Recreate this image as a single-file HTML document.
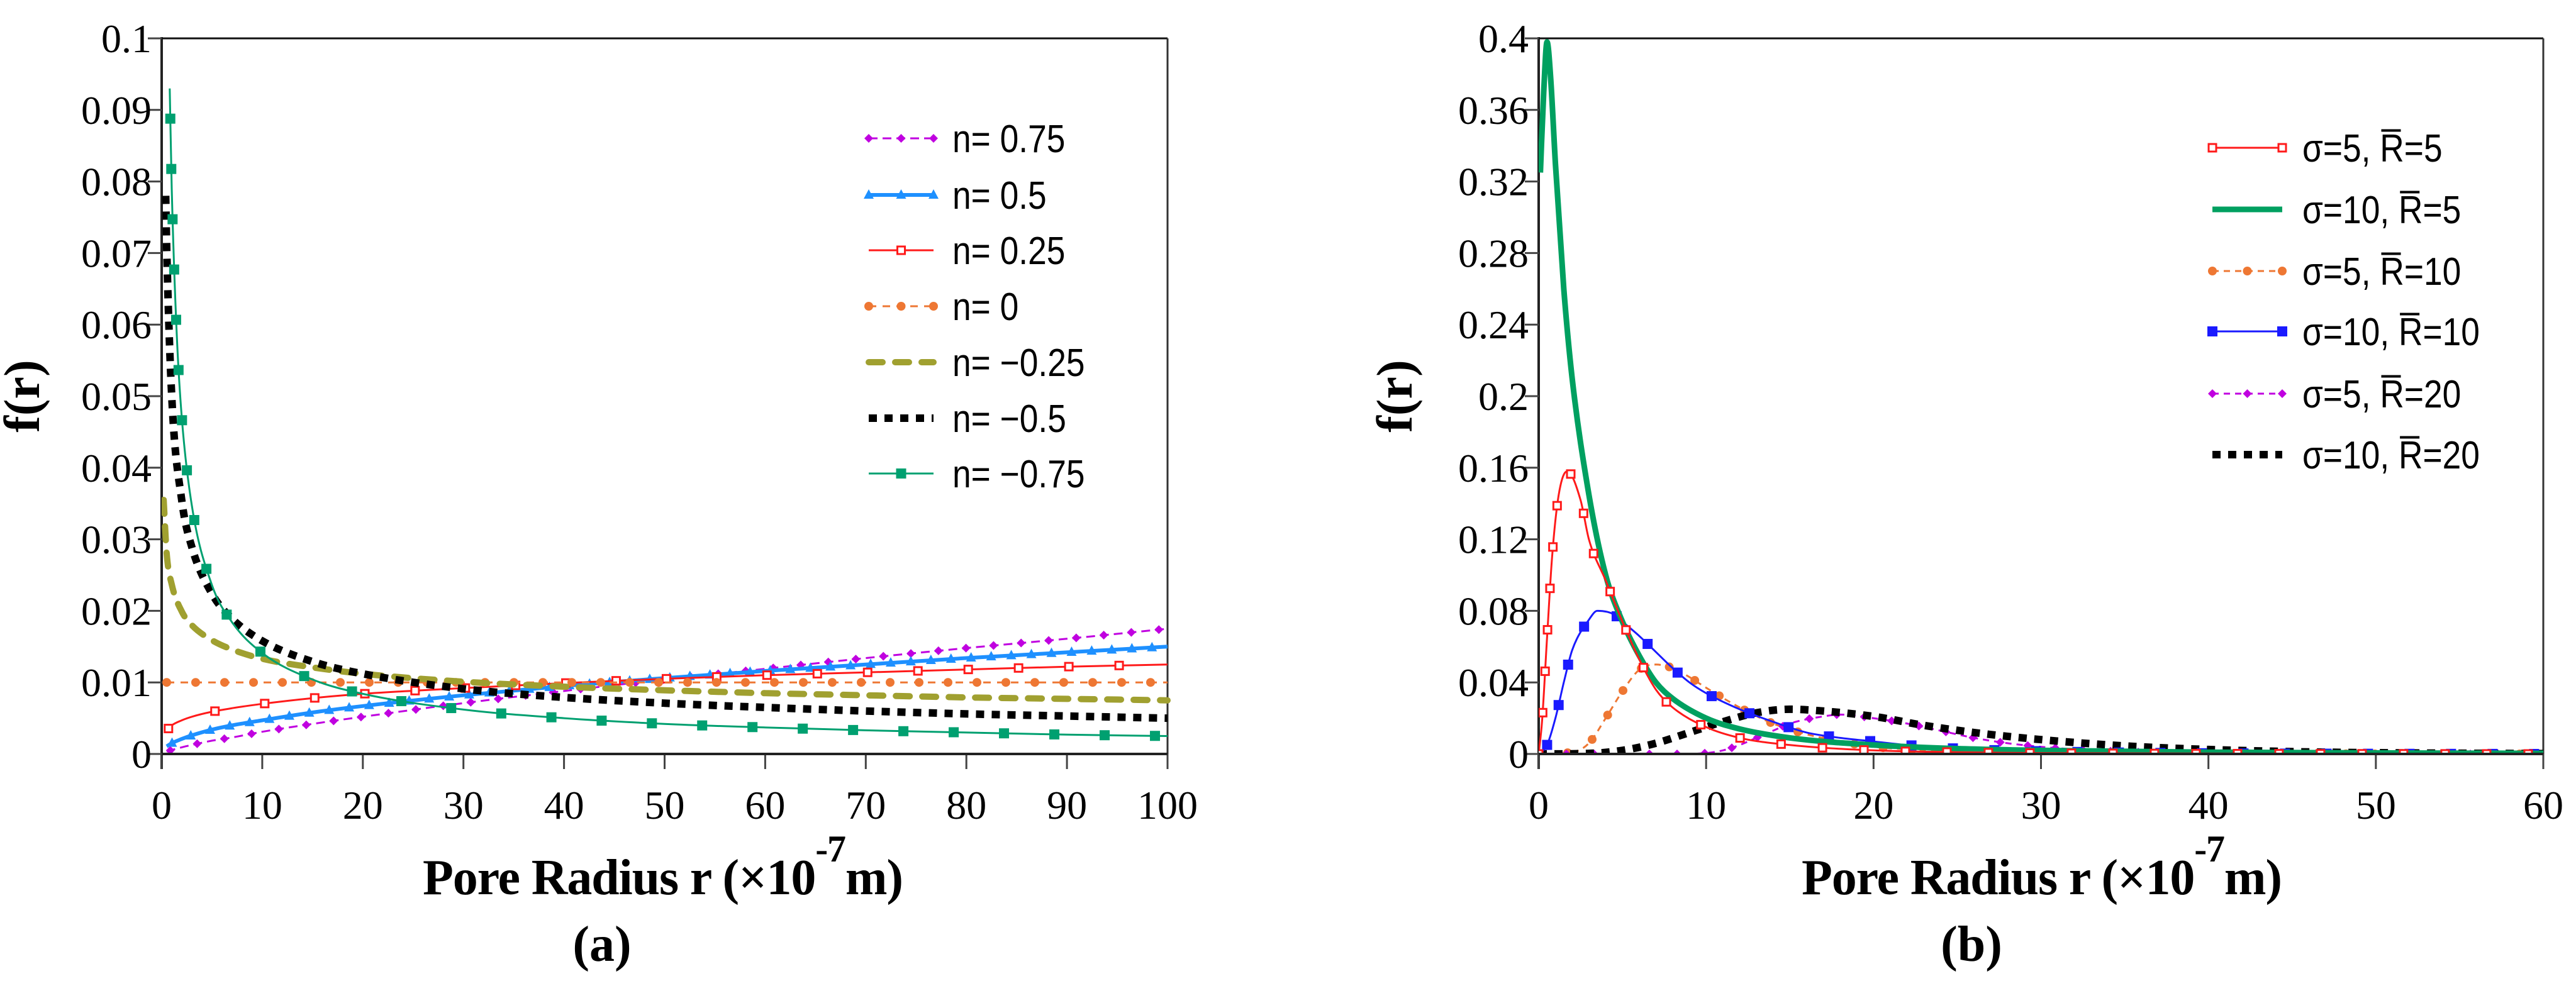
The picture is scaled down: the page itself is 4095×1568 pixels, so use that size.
<!DOCTYPE html>
<html><head><meta charset="utf-8"><style>
html,body{margin:0;padding:0;background:#fff}
svg{display:block}
.tk{font-family:"Liberation Serif",serif;font-size:64px;fill:#000}
.tt{font-family:"Liberation Serif",serif;font-weight:bold;font-size:80px;fill:#000}
.lg{font-family:"Liberation Sans",sans-serif;font-size:62px;fill:#000}
</style></head><body>
<svg id="fig" width="4095" height="1568" viewBox="0 0 4095 1568" xmlns="http://www.w3.org/2000/svg">
<g id="pa"></g>
<g id="pb"></g>
</svg>
<script>
// ---------- Panel (a) data ----------
const aXTicks=[0,10,20,30,40,50,60,70,80,90,100];
const aYTicks=[0,0.01,0.02,0.03,0.04,0.05,0.06,0.07,0.08,0.09,0.1];
const aYTickLabels=["0","0.01","0.02","0.03","0.04","0.05","0.06","0.07","0.08","0.09","0.1"];
const aR=[0.5,1,2,3,5,7,10,15,20,30,40,50,60,70,80,90,100];
const aN075=[0.00033,0.00055,0.00093,0.00126,0.00185,0.0023,0.0031,0.0042,0.0052,0.0071,0.0088,0.0104,0.0119,0.0134,0.0148,0.0161,0.0175];
const aN05=[0.00106,0.0015,0.0021,0.0026,0.0034,0.004,0.0047,0.0058,0.0067,0.0082,0.0095,0.0106,0.0116,0.0125,0.0134,0.0142,0.015];
const aN025=[0.0033,0.004,0.0047,0.0052,0.0059,0.0064,0.007,0.0078,0.0084,0.0092,0.0099,0.0105,0.011,0.0114,0.0118,0.0122,0.0125];
const aN0=[0.01,0.01,0.01,0.01,0.01,0.01,0.01,0.01,0.01,0.01,0.01,0.01,0.01,0.01,0.01,0.01,0.01];
const aRm025=[0.2,0.5,1,2,3,5,7,10,15,20,30,40,50,60,70,80,90,100];
const aNm025=[0.0355,0.028,0.0237,0.0199,0.018,0.0159,0.0146,0.0133,0.0121,0.0112,0.0101,0.0094,0.0089,0.0085,0.0082,0.0079,0.0077,0.0075];
const aRm05=[0.4,0.5,1,2,3,5,7,10,15,20,30,40,50,60,70,80,90,100];
const aNm05=[0.078,0.0707,0.05,0.0354,0.0289,0.0224,0.0189,0.0158,0.0129,0.0112,0.0091,0.0079,0.0071,0.0065,0.006,0.0056,0.0053,0.005];
const aRm075=[0.8,1,1.5,2,3,5,7,10,15,20,30,40,50,60,70,80,90,100];
const aNm075=[0.093,0.079,0.0586,0.047,0.0347,0.0236,0.0184,0.0141,0.0104,0.0084,0.0062,0.005,0.0042,0.0037,0.0033,0.003,0.0027,0.0025];
const aLabels=["n= 0.75","n= 0.5","n= 0.25","n= 0","n= \u22120.25","n= \u22120.5","n= \u22120.75"];

// ---------- Panel (b) data ----------
const bXTicks=[0,10,20,30,40,50,60];
const bYTicks=[0,0.04,0.08,0.12,0.16,0.2,0.24,0.28,0.32,0.36,0.4];
const bYTickLabels=["0","0.04","0.08","0.12","0.16","0.2","0.24","0.28","0.32","0.36","0.4"];
const bR1=[0,0.2,0.5,0.8,1.2,1.7,2.5,3,4,5,6,7,8,10,12,15,20,25,30,60];
const bS5R5=[0,0.018,0.065,0.11,0.145,0.158,0.142,0.12,0.097,0.074,0.053,0.036,0.026,0.015,0.009,0.005,0.002,0.001,0.0005,0];
const bR2=[0.1,0.3,0.5,0.7,1,1.5,2,3,4,5,6,7,8,10,12,15,20,25,30,40,60];
const bS10R5=[0.325,0.37,0.398,0.38,0.33,0.26,0.21,0.145,0.1,0.074,0.055,0.04,0.031,0.02,0.014,0.009,0.005,0.003,0.002,0.001,0.0003];
const bR3=[0,2,3,4,5,6,7,8,9,10,12,14,16,18,20,25,30,60];
const bS5R10=[0,0.001,0.006,0.02,0.035,0.047,0.05,0.048,0.043,0.037,0.026,0.017,0.011,0.007,0.004,0.0015,0.0005,0];
const bR4=[0,0.5,1,1.5,2,3,3.5,4.5,5,6,7,8,9,10,12,14,16,18,20,22,25,30,40,60];
const bS10R10=[0,0.005,0.02,0.04,0.058,0.075,0.08,0.078,0.074,0.066,0.057,0.048,0.04,0.034,0.025,0.018,0.012,0.009,0.007,0.005,0.003,0.0015,0.0004,0];
const bR5=[0,8,10,11,12,13,14,15,17,18,20,22,24,26,28,30,33,36,40,60];
const bS5R20=[0,0,0.0005,0.002,0.005,0.009,0.013,0.017,0.021,0.022,0.02,0.017,0.013,0.009,0.006,0.004,0.002,0.001,0.0003,0];
const bR6=[0,3,5,7,9,11,13,15,17,20,23,26,30,35,40,45,50,60];
const bS10R20=[0,0.0003,0.002,0.006,0.012,0.018,0.023,0.025,0.024,0.021,0.016,0.012,0.008,0.0045,0.0025,0.0013,0.0007,0.0002];
const bLabels=["\u03c3=5, R\u0305=5","\u03c3=10, R\u0305=5","\u03c3=5, R\u0305=10","\u03c3=10, R\u0305=10","\u03c3=5, R\u0305=20","\u03c3=10, R\u0305=20"];

const NS="http://www.w3.org/2000/svg";
function mk(tag,attrs,parent){const e=document.createElementNS(NS,tag);for(const k in attrs)e.setAttribute(k,attrs[k]);parent.appendChild(e);return e;}

function monoPath(pts){
  const n=pts.length;if(n<2)return "";
  const dx=[],m=[],t=[];
  for(let i=0;i<n-1;i++){dx.push(pts[i+1][0]-pts[i][0]);m.push((pts[i+1][1]-pts[i][1])/(dx[i]||1e-9));}
  t[0]=m[0];t[n-1]=m[n-2];
  for(let i=1;i<n-1;i++){t[i]=(m[i-1]*m[i]<=0)?0:(m[i-1]+m[i])/2;}
  for(let i=0;i<n-1;i++){
    if(m[i]===0){t[i]=0;t[i+1]=0;continue;}
    const a=t[i]/m[i],b=t[i+1]/m[i],s=a*a+b*b;
    if(s>9){const k=3/Math.sqrt(s);t[i]=k*a*m[i];t[i+1]=k*b*m[i];}
  }
  let d="M"+pts[0][0].toFixed(1)+","+pts[0][1].toFixed(1);
  for(let i=0;i<n-1;i++){const h=dx[i]/3;
    d+=" C"+(pts[i][0]+h).toFixed(1)+","+(pts[i][1]+t[i]*h).toFixed(1)+" "+(pts[i+1][0]-h).toFixed(1)+","+(pts[i+1][1]-t[i+1]*h).toFixed(1)+" "+pts[i+1][0].toFixed(1)+","+pts[i+1][1].toFixed(1);}
  return d;
}

function marker(type,x,y,color,parent){
  let e;
  if(type==="sq"){e=mk("rect",{x:x-8,y:y-8,width:16,height:16,fill:color},parent);}
  else if(type==="hsq"){e=mk("rect",{x:x-6,y:y-6,width:12,height:12,fill:"#fff",stroke:color,"stroke-width":3},parent);}
  else if(type==="dia"){e=mk("polygon",{points:`${x},${y-7} ${x+7},${y} ${x},${y+7} ${x-7},${y}`,fill:color},parent);}
  else if(type==="tri"){e=mk("polygon",{points:`${x},${y-9} ${x+8},${y+6} ${x-8},${y+6}`,fill:color},parent);}
  else if(type==="cir"){e=mk("circle",{cx:x,cy:y,r:7,fill:color},parent);}
  if(e){
  }
}

function axes(g,o){
  const X=v=>o.x0+(v-o.xmin)/(o.xmax-o.xmin)*(o.x1-o.x0);
  const Y=v=>o.y1-(v-o.ymin)/(o.ymax-o.ymin)*(o.y1-o.y0);
  const clip=mk("clipPath",{id:o.id+"clip"},g);mk("rect",{x:o.x0,y:o.y0-30,width:o.x1-o.x0+6,height:o.y1-o.y0+32},clip);
  const ag=mk("g",{},g);
  mk("line",{x1:o.x0,y1:o.y0-2,x2:o.x0,y2:o.y1+24,stroke:"#222","stroke-width":4},ag);
  mk("line",{x1:o.x0-22,y1:o.y0,x2:o.x1,y2:o.y0,stroke:"#111","stroke-width":3},ag);
  mk("line",{x1:o.x1,y1:o.y0,x2:o.x1,y2:o.y1+24,stroke:"#333","stroke-width":3},ag);
  o.yt.forEach((v,i)=>{const y=Y(v);
    mk("line",{x1:o.x0-22,y1:y,x2:o.x0,y2:y,stroke:"#444","stroke-width":3},ag);
    const t=mk("text",{x:o.x0-16,y:y+22,"text-anchor":"end",class:"tk"},ag);t.textContent=o.ytl[i];
    
    
  });
  o.xt.forEach(v=>{const x=X(v);
    mk("line",{x1:x,y1:o.y1,x2:x,y2:o.y1+24,stroke:"#444","stroke-width":3},ag);
    const t=mk("text",{x:x,y:o.y1+103,"text-anchor":"middle",class:"tk"},ag);t.textContent=String(v);
    
    
  });
  const yt=mk("text",{x:0,y:0,transform:`translate(${o.ytx},630) rotate(-90)`,"text-anchor":"middle",class:"tt"},g);yt.textContent="f(r)";
  
  
  const xt=mk("text",{x:o.xtx,y:1422,class:"tt"},g);
  
  
  const s1=mk("tspan",{},xt);s1.textContent="Pore Radius r (\u00d710";
  const s2=mk("tspan",{dy:-52,"font-size":"60"},xt);s2.textContent="-7";
  const s3=mk("tspan",{dy:52},xt);s3.textContent="m)";
  xt.setAttribute("textLength",764);
  const pl=mk("text",{x:o.plx,y:1528,"text-anchor":"middle",class:"tt","font-weight":"normal"},g);
  
  
  const p1=mk("tspan",{},pl);p1.textContent="(";const p2=mk("tspan",{"font-weight":"bold"},pl);p2.textContent=o.pl;const p3=mk("tspan",{},pl);p3.textContent=")";
  return {X,Y,clip:"url(#"+o.id+"clip)"};
}

function series(g,ax,xs,ys,st,name){
  const sg=mk("g",{"clip-path":ax.clip},g);
  
  
  const pts=xs.map((x,i)=>[ax.X(x),ax.Y(ys[i])]);
  const p=mk("path",{d:monoPath(pts),fill:"none",stroke:st.c,"stroke-width":st.w,"stroke-dasharray":st.dash||"none","stroke-linecap":st.cap||"butt"},sg);
  if(st.m){const L=p.getTotalLength();for(let s=st.off||0;s<=L;s+=st.sp){const q=p.getPointAtLength(s);marker(st.m,q.x,q.y,st.c,sg);}}
}

function legend(g,items,x0,x1,tx,ys){
  items.forEach((it,i)=>{
    const lg=mk("g",{},g);
    
    
    const y=ys[i];
    mk("line",{x1:x0,y1:y,x2:x1,y2:y,stroke:it.st.c,"stroke-width":it.st.w,"stroke-dasharray":it.st.dash||"none","stroke-linecap":it.st.cap||"butt"},lg);
    if(it.st.m){const k=it.lm||2;for(let j=0;j<k;j++){const x=k===1?(x0+x1)/2:x0+(x1-x0)*j/(k-1);marker(it.st.m,x,y,it.st.c,lg);}}
    const t=mk("text",{x:tx,y:y+22,class:"lg"},lg);t.textContent=it.label;
    const w=t.getComputedTextLength();
    t.setAttribute("textLength",(w*0.86).toFixed(1));
    t.setAttribute("lengthAdjust","spacingAndGlyphs");
  });
}

// Panel a
const ga=document.getElementById("pa");
const axA=axes(ga,{id:"a",x0:257,x1:1856,y0:61,y1:1199,xmin:0,xmax:100,ymin:0,ymax:0.1,xt:aXTicks,yt:aYTicks,ytl:aYTickLabels,ytx:62,xtx:672,plx:957,pl:"a"});
const aSt=[
 {c:"#c000e0",w:3,dash:"14 8",m:"dia",sp:44,off:6},
 {c:"#1e90ff",w:6,m:"tri",sp:32,off:10},
 {c:"#ff1a1a",w:3,m:"hsq",sp:80,off:4},
 {c:"#ee7733",w:3,dash:"12 10",m:"cir",sp:46,off:0},
 {c:"#a0a030",w:10,dash:"22 20",cap:"round"},
 {c:"#000",w:12,dash:"13 12"},
 {c:"#00a070",w:3,m:"sq",sp:80,off:48}
];
series(ga,axA,aR,aN075,aSt[0],"series-n-0.75");
series(ga,axA,aR,aN05,aSt[1],"series-n-0.5");
series(ga,axA,aR,aN025,aSt[2],"series-n-0.25");
series(ga,axA,aR,aN0,aSt[3],"series-n-0");
series(ga,axA,aRm025,aNm025,aSt[4],"series-n-neg0.25");
series(ga,axA,aRm05,aNm05,aSt[5],"series-n-neg0.5");
series(ga,axA,aRm075,aNm075,aSt[6],"series-n-neg0.75");
const lgA=mk("g",{},ga);
legend(lgA,aLabels.map((l,i)=>({label:l,st:aSt[i],lm:(i===2||i===6)?1:3})),1381,1484,1514,[220,310,398,487,576,665,753]);

// Panel b
const gb=document.getElementById("pb");
const axB=axes(gb,{id:"b",x0:2446,x1:4043,y0:61,y1:1199,xmin:0,xmax:60,ymin:0,ymax:0.4,xt:bXTicks,yt:bYTicks,ytl:bYTickLabels,ytx:2244,xtx:2864,plx:3134,pl:"b"});
const bSt=[
 {c:"#ff1a1a",w:3,m:"hsq",sp:66,off:0},
 {c:"#00a060",w:9},
 {c:"#ee7733",w:3,dash:"10 8",m:"cir",sp:46,off:0},
 {c:"#1a1aff",w:3,m:"sq",sp:66,off:20},
 {c:"#c000e0",w:3,dash:"10 8",m:"dia",sp:44,off:0},
 {c:"#000",w:12,dash:"13 12"}
];
series(gb,axB,bR3,bS5R10,bSt[2],"series-s5-r10");
series(gb,axB,bR5,bS5R20,bSt[4],"series-s5-r20");
series(gb,axB,bR6,bS10R20,bSt[5],"series-s10-r20");
series(gb,axB,bR4,bS10R10,bSt[3],"series-s10-r10");
series(gb,axB,bR2,bS10R5,bSt[1],"series-s10-r5");
series(gb,axB,bR1,bS5R5,bSt[0],"series-s5-r5");
mk("line",{x1:2446,y1:1199,x2:4043,y2:1199,stroke:"#222","stroke-width":4},gb);
const lgB=mk("g",{},gb);
legend(lgB,bLabels.map((l,i)=>({label:l,st:bSt[i],lm:(i===2||i===4)?3:2})),3517,3628,3660,[235,333,431,527,626,723]);
// bottom axis for panel a drawn last
mk("line",{x1:257,y1:1199,x2:1856,y2:1199,stroke:"#222","stroke-width":4},ga);
</script>
</body></html>
